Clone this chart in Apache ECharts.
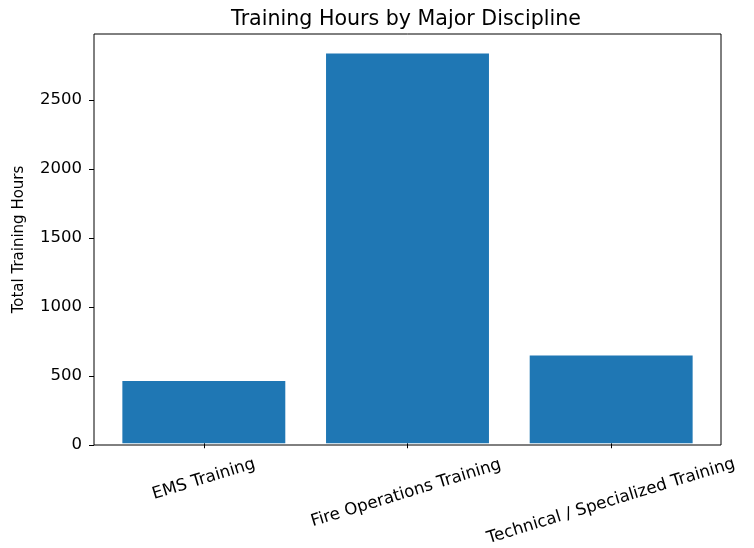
<!DOCTYPE html>
<html>
<head>
<meta charset="utf-8">
<script src="https://cdn.jsdelivr.net/npm/echarts@6/dist/echarts.min.js"></script>
<style>
  html, body { margin: 0; padding: 0; background: #fff; }
  #chart { width: 754px; height: 548px; }
</style>
</head>
<body>
<div id="chart"></div>
<script>
// 各类培训总时长
var categories = ["EMS Training", "Fire Operations Training", "Technical / Specialized Training"];
var hours = [454, 2838, 638];
var yTicks = [0, 500, 1000, 1500, 2000, 2500];
var yMax = 2980;

var font = "DejaVu Sans";
var chart = echarts.init(document.getElementById("chart"));

// 旋转标签按中心对齐, 长标签往下挪一点 (模仿 matplotlib)
var labelPad = [
  [0, 0, 0, 0],
  [26, 11, 0, 0],
  [42, 13, 0, 0]
];
var rich = {};
labelPad.forEach(function (p, i) {
  rich["c" + i] = { padding: p, fontSize: 16.7, fontFamily: font, color: "#000" };
});

var option = {
  animation: false,
  backgroundColor: "#fff",
  title: {
    text: "Training Hours by Major Discipline",
    left: 406,
    textAlign: "center",
    top: 9,
    padding: 0,
    textStyle: { fontFamily: font, fontSize: 20.6, fontWeight: "normal", color: "#000" }
  },
  grid: [
    // 外框 + y轴
    { left: 94, top: 34, width: 627, height: 411, show: true, borderColor: "#000", borderWidth: 1, containLabel: false },
    // 柱子所在区域 (两边留 0.04 个类目的空隙)
    { left: 102, top: 34, width: 611, height: 411, containLabel: false }
  ],
  xAxis: [
    { gridIndex: 0, type: "value", min: 0, max: 1, show: false },
    {
      gridIndex: 1,
      type: "category",
      data: categories,
      axisLine: { show: false },
      axisTick: { show: true, alignWithLabel: true, length: 5, lineStyle: { color: "#000" } },
      axisLabel: {
        rotate: 17,
        align: "center",
        verticalAlign: "middle",
        margin: 36,
        interval: 0,
        formatter: function (value, idx) {
          return "{c" + idx + "|" + value + "}";
        },
        rich: rich
      }
    }
  ],
  yAxis: [
    {
      gridIndex: 0,
      type: "value",
      min: 0,
      max: yMax,
      name: "Total Training Hours",
      nameLocation: "middle",
      nameGap: 67,
      nameTextStyle: { fontFamily: font, fontSize: 15, color: "#000" },
      splitLine: { show: false },
      axisLine: { show: false },
      axisTick: { show: true, length: 5, customValues: yTicks, lineStyle: { color: "#000" } },
      axisLabel: {
        customValues: yTicks,
        margin: 12,
        fontFamily: font,
        fontSize: 16.5,
        color: "#000",
        formatter: function (v) { return String(v); }
      }
    },
    { gridIndex: 1, type: "value", min: 0, max: yMax, show: false, splitLine: { show: false } }
  ],
  series: [
    {
      type: "bar",
      xAxisIndex: 1,
      yAxisIndex: 1,
      data: hours,
      barWidth: "80%",
      itemStyle: { color: "#1f77b4" }
    }
  ]
};

chart.setOption(option);
</script>
</body>
</html>
